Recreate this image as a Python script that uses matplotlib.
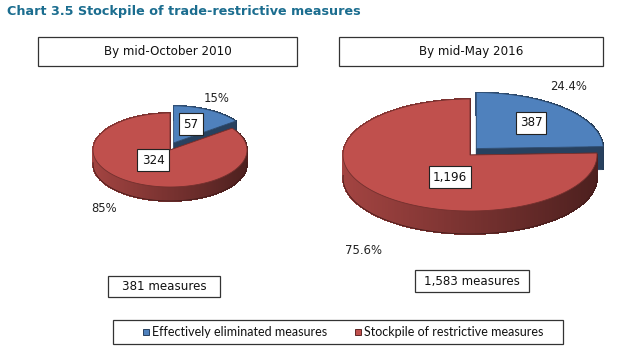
import numpy as np
import matplotlib
matplotlib.use("Agg")
import matplotlib.pyplot as plt
from matplotlib.patches import Polygon, Rectangle
from matplotlib.colors import to_rgb

# ---- data ----
categories = ["Effectively eliminated measures", "Stockpile of restrictive measures"]
panel_titles = ["By mid-October 2010", "By mid-May 2016"]
values_2010 = [57, 324]
values_2016 = [387, 1196]
pct_decimals = [0, 1]

colors = ["#4f81bd", "#c0504d"]
title_color = "#1b6d8f"

# ---- layout (pixel coordinates, y down) ----
pies = [
    dict(cx=170, cy=150, rx=77, ry=37, depth=14, explode=8,
         val_pos=[(191, 124), (153, 160)], pct_pos=[(217, 99), (104, 208)],
         title_box=(38, 37, 259, 29), total_box=(108, 276, 112, 21)),
    dict(cx=470, cy=155, rx=127, ry=56, depth=23, explode=9,
         val_pos=[(531, 123), (450, 177)], pct_pos=[(569, 86), (363, 250)],
         title_box=(339, 37, 264, 29), total_box=(415, 270, 114, 22)),
]

fig = plt.figure(figsize=(6.4, 3.55), dpi=100)
ax = fig.add_axes([0, 0, 1, 1])
ax.set_xlim(0, 640)
ax.set_ylim(355, 0)
ax.axis("off")


def shade(c, f):
    r, g, b = to_rgb(c)
    return (r * f, g * f, b * f)


def draw_pie3d(ax, values, p):
    total = float(sum(values))
    cx, cy, rx, ry, d = p["cx"], p["cy"], p["rx"], p["ry"], p["depth"]
    sides = []
    tops = []
    a0 = 0.0
    for i, v in enumerate(values):
        a1 = a0 + 360.0 * v / total
        m = np.radians((a0 + a1) / 2)
        e = p["explode"] if i == 0 else 0
        ox, oy = e * np.sin(m), -e * np.cos(m)
        th = np.radians(np.linspace(a0, a1, max(int(a1 - a0), 2) + 1))
        xs = cx + ox + rx * np.sin(th)
        ys = cy + oy - ry * np.cos(th)
        c0 = (cx + ox, cy + oy)
        # outer wall pieces
        for k in range(len(th) - 1):
            tm = (th[k] + th[k + 1]) / 2
            f = 0.85 - 0.45 * (np.sin(tm) + 1) / 2
            col = shade(colors[i], f)
            quad = [(xs[k], ys[k]), (xs[k + 1], ys[k + 1]),
                    (xs[k + 1], ys[k + 1] + d), (xs[k], ys[k] + d)]
            sides.append((-np.cos(tm), quad, col, False))
        # radial walls
        for t, xe, ye in [(th[0], xs[0], ys[0]), (th[-1], xs[-1], ys[-1])]:
            col = shade(colors[i], 0.5)
            quad = [c0, (xe, ye), (xe, ye + d), (c0[0], c0[1] + d)]
            sides.append((-np.cos(t) * 0.5, quad, col, True))
        # bottom rim line of the front wall
        front = np.cos(th) < 0.05
        if front.any():
            ax.plot(xs[front], ys[front] + d, color=shade(colors[i], 0.35),
                    lw=0.6, zorder=2.5)
        tops.append(([c0] + list(zip(xs, ys)), colors[i]))
        a0 = a1
    sides.sort(key=lambda s: s[0])
    for _, quad, col, aa in sides:
        ax.add_patch(Polygon(quad, closed=True, facecolor=col, edgecolor=col,
                             lw=0.6, antialiased=aa, zorder=2))
    for poly, col in tops:
        ax.add_patch(Polygon(poly, closed=True, facecolor=col,
                             edgecolor=shade(col, 0.6), lw=0.6, zorder=3))


def box(ax, rect, text, size=8.6):
    x, y, w, h = rect
    ax.add_patch(Rectangle((x, y), w, h, facecolor="white", edgecolor="#333333",
                           lw=0.9, zorder=4))
    ax.text(x + w / 2, y + h / 2, text, ha="center", va="center",
            fontsize=size, color="#111111", family="DejaVu Sans", zorder=5)


for vals, dec, title, p in zip([values_2010, values_2016], pct_decimals, panel_titles, pies):
    draw_pie3d(ax, vals, p)
    total = sum(vals)
    for v, (vx, vy), (px, py) in zip(vals, p["val_pos"], p["pct_pos"]):
        ax.text(vx, vy, f"{v:,}", ha="center", va="center", fontsize=8.6,
                color="#111111", zorder=6,
                bbox=dict(boxstyle="square,pad=0.35", fc="white", ec="#222222", lw=0.8))
        ax.text(px, py, f"{100 * v / total:.{dec}f}%", ha="center", va="center",
                fontsize=8.4, color="#222222", zorder=6)
    box(ax, p["title_box"], title)
    box(ax, p["total_box"], f"{total:,} measures")

# chart title
ax.text(7, 12, "Chart 3.5 Stockpile of trade-restrictive measures", ha="left",
        va="center", fontsize=9.2, fontweight="bold", color=title_color,
        family="DejaVu Sans")

# legend
ax.add_patch(Rectangle((113, 320), 450, 24, facecolor="white", edgecolor="#333333",
                       lw=0.9, zorder=4))
leg_x = [143, 355]
for cat, col, lx in zip(categories, colors, leg_x):
    ax.add_patch(Rectangle((lx, 329), 6, 6, facecolor=col,
                           edgecolor=shade(col, 0.5), lw=0.7, zorder=5))
    ax.text(lx + 9, 332, cat, ha="left", va="center", fontsize=9,
            family="Lato", color="#111111", zorder=5)

fig.savefig("out.png", dpi=100)
